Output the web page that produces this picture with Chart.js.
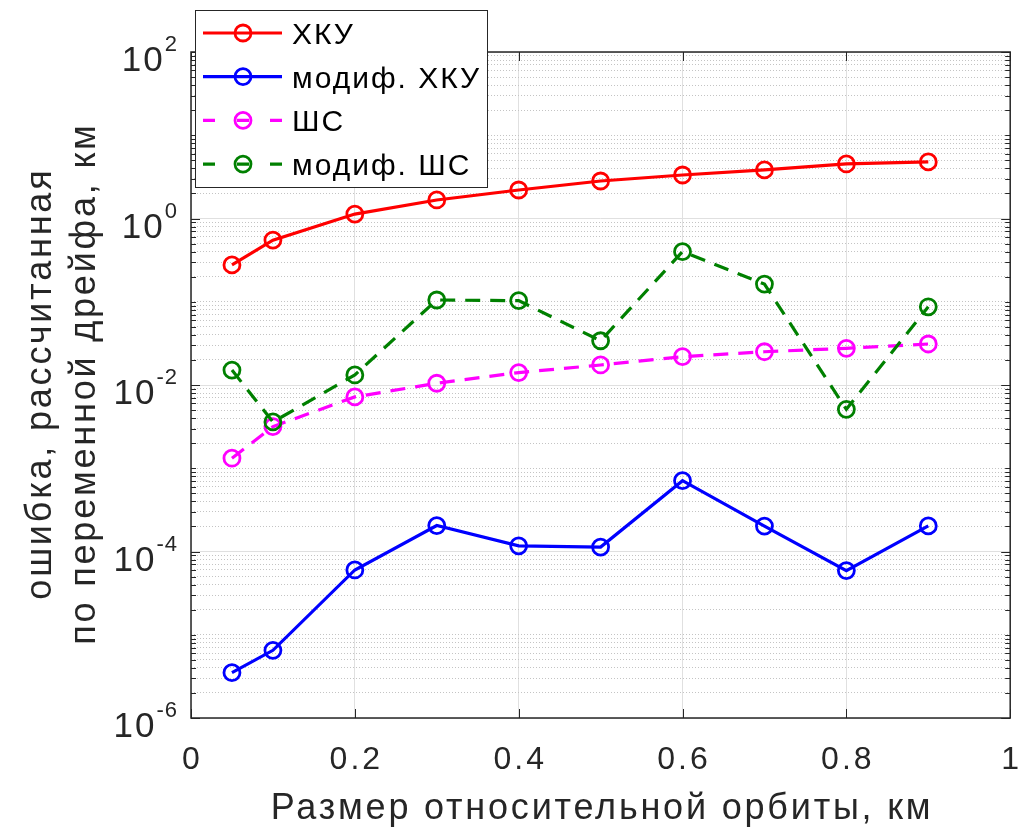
<!DOCTYPE html>
<html>
<head>
<meta charset="utf-8">
<script src="https://cdn.jsdelivr.net/npm/chart.js@4/dist/chart.umd.min.js"></script>
<style>
  html, body { margin: 0; padding: 0; background: #fff; }
  canvas { display: block; }
</style>
</head>
<body>
<canvas id="chart" width="1021" height="829"></canvas>
<script>
// Размер относительной орбиты, км
const orbitSizes = [0.05, 0.1, 0.2, 0.3, 0.4, 0.5, 0.6, 0.7, 0.8, 0.9];

// ошибки, км
const errHKU     = [0.277, 0.55, 1.13, 1.67, 2.2, 2.82, 3.33, 3.83, 4.52, 4.78];
const errHKUmod  = [3.5e-6, 6.5e-6, 6.0e-5, 2.05e-4, 1.17e-4, 1.13e-4, 7.1e-4, 2.02e-4, 5.9e-5, 2.03e-4];
const errSHS     = [1.32e-3, 3.16e-3, 7.2e-3, 0.0105, 0.0141, 0.0174, 0.0219, 0.0251, 0.0276, 0.0311];
const errSHSmod  = [0.0151, 3.6e-3, 0.0132, 0.105, 0.103, 0.034, 0.40, 0.163, 5.1e-3, 0.087];

// оси
const xTicks = [0, 0.2, 0.4, 0.6, 0.8, 1];
const xTickLabels = ['0', '0.2', '0.4', '0.6', '0.8', '1'];
const yDecades = [-6, -5, -4, -3, -2, -1, 0, 1];
const yMinorMult = [1, 2, 3, 4, 5, 6, 7, 8, 9];
const yLabelExps = [-6, -4, -2, 0, 2];
const xTitle = 'Размер относительной орбиты, км';
const yTitle = ['ошибка, рассчитанная', 'по переменной дрейфа, км'];

const INK = '#262626';
const FONT = '"Liberation Sans", Arial, sans-serif';

// все тики лог-оси: 1..9 * 10^k + 10^2
const yTickValues = [];
yDecades.forEach(e => yMinorMult.forEach(m => yTickValues.push(Number((m * Math.pow(10, e)).toPrecision(6)))));
yTickValues.push(100);

const isMajorY = v => yLabelExps.some(e => Math.abs(Math.log10(v) - e) < 1e-6);

const pts = ys => orbitSizes.map((x, i) => ({x, y: ys[i]}));

const series = (label, ys, color, dashed, order) => ({
  label,
  data: pts(ys),
  borderColor: color,
  backgroundColor: 'transparent',
  borderWidth: 3.2,
  borderDash: dashed ? [15, 10] : [],
  pointStyle: 'circle',
  pointRadius: 8,
  pointBorderWidth: 2.8,
  pointBorderColor: color,
  pointBackgroundColor: 'transparent',
  showLine: true,
  tension: 0,
  order
});

// текст с разрядкой (как в исходной картинке)
function drawText(ctx, txt, x, y, size, spacing, align, color) {
  ctx.font = size + 'px ' + FONT;
  ctx.letterSpacing = '0px';
  const w = ctx.measureText(txt).width + spacing * (txt.length - 1);
  ctx.letterSpacing = spacing + 'px';
  ctx.fillStyle = color;
  ctx.textAlign = 'left';
  ctx.textBaseline = 'alphabetic';
  const sx = align === 'center' ? x - w / 2 : align === 'right' ? x - w : x;
  ctx.fillText(txt, sx, y);
  ctx.letterSpacing = '0px';
  return w;
}

// рамка, внутренние тики, подписи и легенда в стиле MATLAB
const matlabFrame = {
  id: 'matlabFrame',
  beforeDatasetsDraw(chart) {
    const {ctx, chartArea: a, scales: {x, y}} = chart;
    ctx.save();
    ctx.strokeStyle = INK;
    ctx.lineWidth = 1;
    yTickValues.forEach(v => {
      const py = Math.round(y.getPixelForValue(v)) + 0.5;
      const len = isMajorY(v) ? 9 : 5;
      ctx.beginPath();
      ctx.moveTo(a.left, py); ctx.lineTo(a.left + len, py);
      ctx.moveTo(a.right, py); ctx.lineTo(a.right - len, py);
      ctx.stroke();
    });
    xTicks.forEach(v => {
      const px = Math.round(x.getPixelForValue(v)) + 0.5;
      ctx.beginPath();
      ctx.moveTo(px, a.bottom); ctx.lineTo(px, a.bottom - 9);
      ctx.moveTo(px, a.top); ctx.lineTo(px, a.top + 9);
      ctx.stroke();
    });
    ctx.lineWidth = 1.5;
    ctx.strokeRect(a.left, a.top, a.right - a.left, a.bottom - a.top);
    ctx.restore();
  },
  afterDraw(chart) {
    const {ctx, chartArea: a, scales: {x, y}} = chart;
    ctx.save();

    // подписи оси X
    xTicks.forEach((v, i) => {
      drawText(ctx, xTickLabels[i], x.getPixelForValue(v), 769, 32, 3, 'center', INK);
    });
    drawText(ctx, xTitle, (a.left + a.right) / 2, 819, 36, 2.8, 'center', INK);

    // подписи 10^k
    yLabelExps.forEach(e => {
      const py = y.getPixelForValue(Math.pow(10, e));
      ctx.font = '22px ' + FONT;
      const ew = ctx.measureText(String(e)).width + (String(e).length - 1);
      const ex = 177 - ew;
      drawText(ctx, String(e), ex, py - 1, 22, 1, 'left', INK);
      drawText(ctx, '10', ex - 2, py + 19, 35, 2, 'right', INK);
    });

    // подпись оси Y (две строки, повернуто)
    const cy = (a.top + a.bottom) / 2;
    [51, 95].forEach((bx, i) => {
      ctx.save();
      ctx.translate(bx, cy);
      ctx.rotate(-Math.PI / 2);
      drawText(ctx, yTitle[i], 0, 0, 36, 2.8, 'center', INK);
      ctx.restore();
    });

    // легенда
    const bx = 195, by = 10, bw = 292, bh = 177;
    ctx.fillStyle = '#fff';
    ctx.fillRect(bx, by, bw, bh);
    ctx.strokeStyle = INK;
    ctx.lineWidth = 1;
    ctx.strokeRect(bx + 0.5, by + 0.5, bw, bh);
    chart.data.datasets.forEach((ds, i) => {
      const ry = 33 + i * 43.7;
      ctx.strokeStyle = ds.borderColor;
      ctx.lineWidth = 3.2;
      ctx.setLineDash([]);
      ctx.beginPath();
      if (ds.borderDash.length) {
        ctx.moveTo(203, ry); ctx.lineTo(215, ry);
        ctx.moveTo(237, ry); ctx.lineTo(249, ry);
        ctx.moveTo(270, ry); ctx.lineTo(282, ry);
      } else {
        ctx.moveTo(203, ry); ctx.lineTo(282, ry);
      }
      ctx.stroke();
      ctx.lineWidth = 2.8;
      ctx.beginPath();
      ctx.arc(243, ry, 8, 0, Math.PI * 2);
      ctx.stroke();
      drawText(ctx, ds.label, 292, ry + 11, 30, 2, 'left', '#000');
    });
    ctx.restore();
  }
};

new Chart(document.getElementById('chart'), {
  type: 'line',
  data: {
    datasets: [
      series('ХКУ', errHKU, '#ff0000', false, 3),
      series('модиф. ХКУ', errHKUmod, '#0000ff', false, 2),
      series('ШС', errSHS, '#ff00ff', true, 1),
      series('модиф. ШС', errSHSmod, '#008000', true, 0)
    ]
  },
  options: {
    responsive: false,
    animation: false,
    layout: { padding: { left: 0, top: 52, right: 9, bottom: 0 } },
    scales: {
      x: {
        type: 'linear',
        min: 0,
        max: 1,
        afterBuildTicks: s => { s.ticks = xTicks.map(v => ({value: v})); },
        afterFit: s => { s.height = 111; },
        ticks: { display: false, autoSkip: false },
        grid: { color: '#e0e0e0', lineWidth: 1, drawTicks: false },
        border: { display: false }
      },
      y: {
        type: 'logarithmic',
        min: 1e-6,
        max: 1e2,
        afterBuildTicks: s => { s.ticks = yTickValues.map(v => ({value: v, major: isMajorY(v)})); },
        afterFit: s => { s.width = 191; },
        ticks: { display: false, autoSkip: false },
        grid: {
          color: c => (c.tick && isMajorY(c.tick.value)) ? '#e0e0e0' : '#c4c4c4',
          lineWidth: 1,
          drawTicks: false
        },
        border: {
          display: false,
          dash: c => (c.tick && isMajorY(c.tick.value)) ? [] : [1, 2]
        }
      }
    },
    plugins: {
      legend: { display: false },
      tooltip: { enabled: false }
    }
  },
  plugins: [matlabFrame]
});
</script>
</body>
</html>
